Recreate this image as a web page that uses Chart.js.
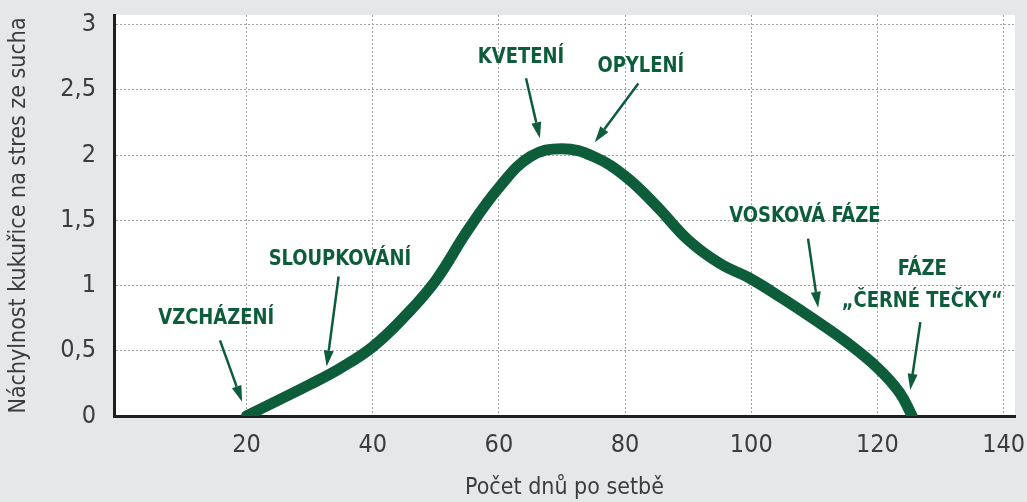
<!DOCTYPE html>
<html><head><meta charset="utf-8">
<script src="https://cdn.jsdelivr.net/npm/chart.js@4/dist/chart.umd.min.js"></script>
<style>html,body{margin:0;padding:0;background:#e6e7e9;}#wrap{width:1027px;height:502px;position:relative}</style>
</head><body><div id="wrap"><canvas id="c" width="1027" height="502"></canvas></div>
<script>
// ---- data ----
const days = [20, 25, 30, 35, 40, 45, 50, 55, 60, 65, 70, 75, 80, 85, 90, 95, 100, 105, 110, 115, 120, 123.5, 125.5];
const stress = [0, 0.12, 0.24, 0.37, 0.53, 0.76, 1.04, 1.42, 1.75, 1.99, 2.05, 1.99, 1.84, 1.61, 1.35, 1.17, 1.05, 0.9, 0.74, 0.57, 0.37, 0.18, 0];
const xTicks = [20, 40, 60, 80, 100, 120, 140];
const yTicks = [0, 0.5, 1, 1.5, 2, 2.5, 3];
const phaseLabels = [['VZCHÁZENÍ'], ['SLOUPKOVÁNÍ'], ['KVETENÍ'], ['OPYLENÍ'], ['VOSKOVÁ FÁZE'], ['FÁZE', '„ČERNÉ TEČKY“']];
const xTitle = 'Počet dnů po setbě';
const yTitle = 'Náchylnost kukuřice na stres ze sucha';

// annotation placement in data units (label centre, arrow tail, arrow head)
const annotations = [
  {label: [15.2, 0.75], from: [15.8, 0.58], to: [19.3, 0.11]},
  {label: [34.8, 1.20], from: [34.6, 1.07], to: [32.7, 0.38]},
  {label: [63.5, 2.75], from: [64.3, 2.59], to: [66.5, 2.13]},
  {label: [82.5, 2.68], from: [82.1, 2.55], to: [75.2, 2.10]},
  {label: [108.5, 1.53], from: [109.0, 1.36], to: [110.6, 0.83]},
  {label: [127.1, 1.00], from: [126.8, 0.72], to: [125.2, 0.20]}
];

const GREEN = '#0d5c3a';
const COND = '"DejaVu Sans Condensed", "DejaVu Sans", sans-serif';

const annoPlugin = {
  id: 'phases',
  afterDatasetsDraw(chart) {
    const {ctx, scales: {x, y}} = chart;
    ctx.save();
    ctx.fillStyle = GREEN;
    ctx.strokeStyle = GREEN;
    annotations.forEach((a, i) => {
      const x1 = x.getPixelForValue(a.from[0]), y1 = y.getPixelForValue(a.from[1]);
      const x2 = x.getPixelForValue(a.to[0]), y2 = y.getPixelForValue(a.to[1]);
      const ang = Math.atan2(y2 - y1, x2 - x1);
      const hl = 16, hw = 5;
      const bx = x2 - hl * Math.cos(ang), by = y2 - hl * Math.sin(ang);
      ctx.lineWidth = 2.5;
      ctx.beginPath(); ctx.moveTo(x1, y1); ctx.lineTo(bx, by); ctx.stroke();
      ctx.beginPath();
      ctx.moveTo(x2, y2);
      ctx.lineTo(bx + hw * Math.sin(ang), by - hw * Math.cos(ang));
      ctx.lineTo(bx - hw * Math.sin(ang), by + hw * Math.cos(ang));
      ctx.closePath(); ctx.fill();
      const lines = phaseLabels[i];
      ctx.font = 'bold 21px ' + COND;
      ctx.textAlign = 'center';
      ctx.textBaseline = 'middle';
      const cx = x.getPixelForValue(a.label[0]), cy = y.getPixelForValue(a.label[1]);
      const lh = 32;
      lines.forEach((t, k) => {
        ctx.save();
        ctx.translate(cx, cy + (k - (lines.length - 1) / 2) * lh);
        ctx.scale(0.95, 1);
        ctx.fillText(t, 0, 0);
        ctx.restore();
      });
    });
    ctx.restore();
  }
};

const bgPlugin = {
  id: 'plotbg',
  beforeDraw(chart) {
    const {ctx, chartArea: a} = chart;
    ctx.save();
    ctx.fillStyle = '#e6e7e9';
    ctx.fillRect(0, 0, chart.width, chart.height);
    ctx.fillStyle = '#ffffff';
    ctx.fillRect(a.left, a.top, a.right - a.left, a.bottom - a.top);
    ctx.restore();
  }
};

const noPad = s => { s.paddingTop = 0; s.paddingBottom = 0; s.paddingLeft = 0; s.paddingRight = 0; };

new Chart(document.getElementById('c'), {
  type: 'line',
  data: {
    datasets: [{
      data: days.map((d, i) => ({x: d, y: stress[i]})),
      borderColor: GREEN,
      borderWidth: 11,
      borderCapStyle: 'round',
      borderJoinStyle: 'round',
      tension: 0.4,
      pointRadius: 0,
      fill: false
    }]
  },
  options: {
    responsive: false,
    animation: false,
    layout: {padding: {left: 0, top: 15, right: 12, bottom: 0}},
    plugins: {legend: {display: false}, tooltip: {enabled: false}},
    scales: {
      x: {
        type: 'linear', min: -1, max: 141.8,
        afterBuildTicks: s => { s.ticks = xTicks.map(v => ({value: v})); },
        afterFit: s => { s.height = 86; noPad(s); },
        grid: {color: '#a0a0a0', lineWidth: 1, drawTicks: false},
        border: {display: true, color: '#1e1e1e', width: 3, dash: [2, 2]},
        ticks: {padding: 14, color: '#3c3c3c', font: {family: COND, size: 25}, maxRotation: 0},
        title: {display: true, text: xTitle, color: '#3c3c3c', font: {family: COND, size: 23}, padding: {top: 1, bottom: 0}}
      },
      y: {
        type: 'linear', min: 0, max: 3.075,
        afterBuildTicks: s => { s.ticks = yTicks.map(v => ({value: v})); },
        afterFit: s => { s.width = 114; noPad(s); },
        grid: {color: '#a0a0a0', lineWidth: 1, drawTicks: false},
        border: {display: true, color: '#1e1e1e', width: 3, dash: [2, 2]},
        ticks: {padding: 18, color: '#3c3c3c', font: {family: COND, size: 25},
          callback: v => String(v).replace('.', ',')},
        title: {display: true, text: yTitle, color: '#3c3c3c', font: {family: COND, size: 23}, padding: {top: 5, bottom: 0}}
      }
    }
  },
  plugins: [bgPlugin, annoPlugin]
});
</script>
</body></html>
